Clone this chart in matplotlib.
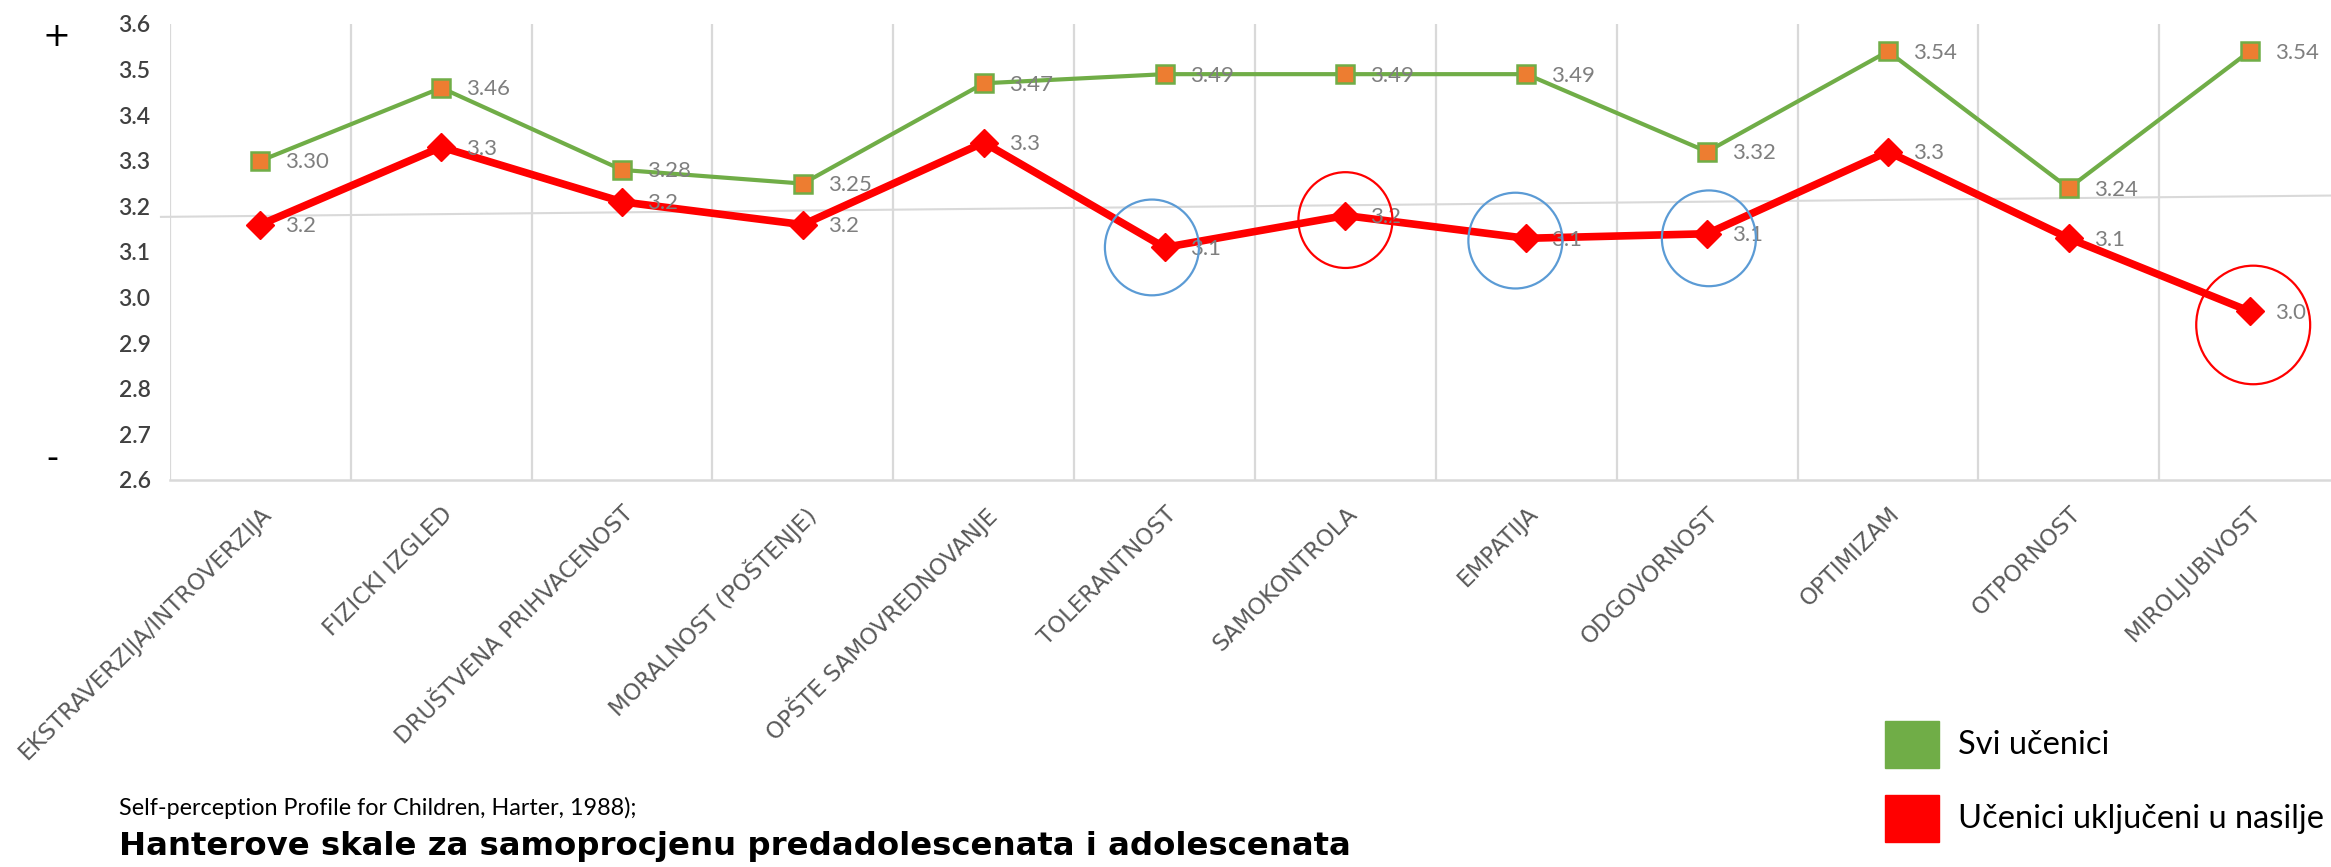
"""Harter self-perception profile: all pupils vs pupils involved in violence."""
import matplotlib

matplotlib.use("Agg")
import matplotlib.pyplot as plt
import numpy as np
from matplotlib.patches import Ellipse, Rectangle

categories = [
    "EKSTRAVERZIJA/INTROVERZIJA", "FIZICKI IZGLED", "DRUŠTVENA PRIHVACENOST",
    "MORALNOST (POŠTENJE)", "OPŠTE SAMOVREDNOVANJE", "TOLERANTNOST",
    "SAMOKONTROLA", "EMPATIJA", "ODGOVORNOST", "OPTIMIZAM", "OTPORNOST",
    "MIROLJUBIVOST",
]
svi = [3.30, 3.46, 3.28, 3.25, 3.47, 3.49, 3.49, 3.49, 3.32, 3.54, 3.24, 3.54]
nasilje = [3.16, 3.33, 3.21, 3.16, 3.34, 3.11, 3.18, 3.13, 3.14, 3.32, 3.13, 2.97]
y_ticks = [2.6, 2.7, 2.8, 2.9, 3.0, 3.1, 3.2, 3.3, 3.4, 3.5, 3.6]
legend_labels = ["Svi učenici", "Učenici uključeni u nasilje"]

# highlighted points: (index, circle colour, dx, dy, width, height)
highlights = [
    (5, "#5B9BD5", -0.07, 0.0, 0.52, 0.21),
    (6, "#FF0000", 0.0, -0.01, 0.52, 0.21),
    (7, "#5B9BD5", -0.06, -0.005, 0.52, 0.21),
    (8, "#5B9BD5", 0.01, -0.01, 0.52, 0.21),
    (11, "#FF0000", 0.02, -0.03, 0.63, 0.26),
]
ref_line = (3.177, 3.224)

GREEN = "#70AD47"
ORANGE = "#ED7D31"
RED = "#FF0000"
GRID = "#D9D9D9"
LABEL = "#7F7F7F"
TICK = "#404040"

W, H = 2331, 867
fig = plt.figure(figsize=(W / 100, H / 100), dpi=100)
ax = fig.add_axes([170 / W, 1 - 480 / H, 2170 / W, 456 / H])

x = np.arange(len(categories))
ax.plot(x, svi, color=GREEN, lw=3, marker="s", ms=12.5, mfc=ORANGE, mec=GREEN,
        mew=1.8, zorder=4)
ax.plot(x, nasilje, color=RED, lw=5.5, marker="D", ms=14.5, mfc=RED, mec=RED,
        zorder=4)

for xi, v in zip(x, svi):
    ax.annotate(f"{v:.2f}", (xi, v), xytext=(18, -1), textcoords="offset points",
                ha="left", va="center", fontsize=16, color=LABEL, family="Lato",
                zorder=5)
for xi, v in zip(x, nasilje):
    ax.annotate(f"{v:.1f}", (xi, v), xytext=(18, -1), textcoords="offset points",
                ha="left", va="center", fontsize=16, color=LABEL, family="Lato",
                zorder=5)

for i, col, dx, dy, w, h in highlights:
    ax.add_patch(Ellipse((x[i] + dx, nasilje[i] + dy), w, h, fill=False,
                         edgecolor=col, lw=1.6, zorder=6))

ax.plot([-0.55, len(categories) - 0.5], ref_line, color=GRID, lw=1.5,
        zorder=1, clip_on=False)

ax.set_xlim(-0.5, len(categories) - 0.5)
ax.set_ylim(2.6, 3.6)
ax.set_xticks(x)
ax.set_xticklabels(categories, rotation=45, ha="right", va="top",
                   rotation_mode="anchor", fontsize=16.5, color="#595959",
                   family="DejaVu Sans")
ax.set_xticks(np.arange(-0.5, len(categories), 1), minor=True)
ax.set_yticks(y_ticks)
ax.set_yticklabels([f"{t:.1f}" for t in y_ticks], fontsize=16.5, color=TICK,
                   family="Lato", weight="semibold")
ax.tick_params(axis="both", which="both", length=0)
ax.tick_params(axis="y", pad=14)
ax.tick_params(axis="x", pad=16)
ax.grid(which="minor", axis="x", color=GRID, lw=1.6)
for s in ["top", "right", "left"]:
    ax.spines[s].set_visible(False)
ax.spines["bottom"].set_color(GRID)
ax.spines["bottom"].set_linewidth(1.8)

fig.text(56 / W, 1 - 36 / H, "+", fontsize=24, ha="center", va="center",
         color="black")
fig.text(52 / W, 1 - 459 / H, "-", fontsize=24, ha="center", va="center",
         color="black")

fig.text(119 / W, 1 - 808 / H, "Self-perception Profile for Children, Harter, 1988);",
         fontsize=16.8, family="Lato", va="center", ha="left", color="black")
fig.text(119 / W, 1 - 846 / H,
         "Hanterove skale za samoprocjenu predadolescenata i adolescenata",
         fontsize=23.3, family="DejaVu Sans", weight="bold", va="center",
         ha="left", color="black")

for k, (lab, col) in enumerate(zip(legend_labels, [GREEN, RED])):
    y0 = 1 - (768 + 74 * k) / H
    fig.patches.append(Rectangle((1885 / W, y0), 54 / W, 47 / H, color=col,
                                 transform=fig.transFigure, figure=fig))
    fig.text(1958 / W, y0 + 23 / H, lab, fontsize=23.5, family="Lato",
             va="center", ha="left", color="black")

fig.savefig("out.png", dpi=100)
